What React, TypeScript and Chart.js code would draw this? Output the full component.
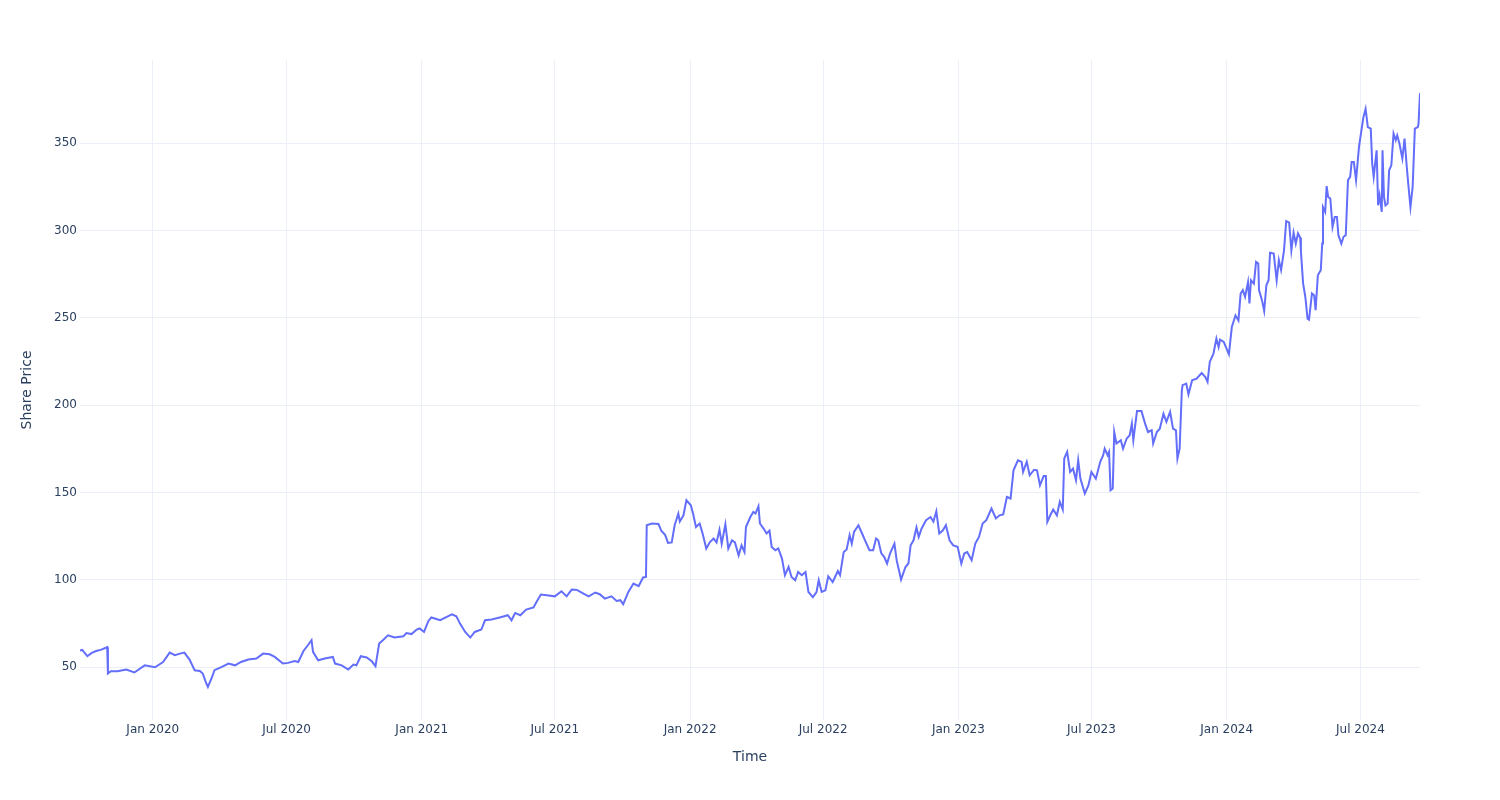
import React, { useEffect, useRef } from "react";
import { Chart, registerables } from "chart.js";

Chart.register(...registerables);

const dates: string[] = [
  "2019-09-24","2019-09-27","2019-10-04","2019-10-10","2019-10-16","2019-10-23","2019-10-30","2019-10-31",
  "2019-11-01","2019-11-05","2019-11-14","2019-11-26","2019-12-07","2019-12-21","2020-01-04","2020-01-15",
  "2020-01-24","2020-01-31","2020-02-07","2020-02-13","2020-02-20","2020-02-27","2020-03-05","2020-03-09",
  "2020-03-13","2020-03-16","2020-03-21","2020-03-25","2020-04-04","2020-04-13","2020-04-22","2020-04-30",
  "2020-05-10","2020-05-21","2020-05-30","2020-06-08","2020-06-15","2020-06-26","2020-07-03","2020-07-12",
  "2020-07-17","2020-07-24","2020-07-30","2020-08-04","2020-08-06","2020-08-13","2020-08-22","2020-09-02",
  "2020-09-05","2020-09-14","2020-09-23","2020-09-30","2020-10-04","2020-10-10","2020-10-18","2020-10-25",
  "2020-10-30","2020-11-04","2020-11-09","2020-11-16","2020-11-25","2020-12-07","2020-12-11","2020-12-18",
  "2020-12-25","2020-12-29","2021-01-04","2021-01-10","2021-01-14","2021-01-26","2021-02-04","2021-02-11",
  "2021-02-17","2021-02-22","2021-03-01","2021-03-08","2021-03-14","2021-03-23","2021-03-28","2021-04-06",
  "2021-04-17","2021-04-28","2021-05-03","2021-05-08","2021-05-15","2021-05-23","2021-06-02","2021-06-06",
  "2021-06-12","2021-06-20","2021-07-01","2021-07-10","2021-07-17","2021-07-24","2021-07-31","2021-08-09",
  "2021-08-16","2021-08-25","2021-08-31","2021-09-07","2021-09-16","2021-09-23","2021-09-28","2021-10-02",
  "2021-10-09","2021-10-16","2021-10-23","2021-10-29","2021-11-02","2021-11-03","2021-11-10","2021-11-19",
  "2021-11-23","2021-11-28","2021-12-02","2021-12-07","2021-12-11","2021-12-16","2021-12-18","2021-12-23",
  "2021-12-27","2022-01-02","2022-01-05","2022-01-09","2022-01-14","2022-01-18","2022-01-23","2022-01-28",
  "2022-02-02","2022-02-06","2022-02-10","2022-02-13","2022-02-18","2022-02-22","2022-02-27","2022-03-03",
  "2022-03-08","2022-03-12","2022-03-16","2022-03-18","2022-03-24","2022-03-28","2022-03-31","2022-04-04",
  "2022-04-06","2022-04-11","2022-04-15","2022-04-19","2022-04-22","2022-04-27","2022-05-01","2022-05-06",
  "2022-05-10","2022-05-15","2022-05-19","2022-05-24","2022-05-28","2022-06-02","2022-06-07","2022-06-11",
  "2022-06-17","2022-06-22","2022-06-25","2022-06-29","2022-07-04","2022-07-08","2022-07-14","2022-07-21",
  "2022-07-24","2022-07-29","2022-08-02","2022-08-06","2022-08-09","2022-08-12","2022-08-18","2022-08-23",
  "2022-08-27","2022-09-02","2022-09-07","2022-09-11","2022-09-14","2022-09-18","2022-09-22","2022-09-26",
  "2022-09-30","2022-10-06","2022-10-09","2022-10-15","2022-10-21","2022-10-25","2022-10-28","2022-11-01",
  "2022-11-05","2022-11-08","2022-11-12","2022-11-18","2022-11-24","2022-11-28","2022-12-02","2022-12-06",
  "2022-12-11","2022-12-15","2022-12-20","2022-12-25","2022-12-31","2023-01-03","2023-01-05","2023-01-09",
  "2023-01-13","2023-01-19","2023-01-24","2023-01-29","2023-02-03","2023-02-08","2023-02-15","2023-02-21",
  "2023-02-26","2023-03-03","2023-03-08","2023-03-13","2023-03-17","2023-03-23","2023-03-28","2023-03-30",
  "2023-04-04","2023-04-08","2023-04-14","2023-04-18","2023-04-22","2023-04-27","2023-04-30","2023-05-02",
  "2023-05-06","2023-05-10","2023-05-15","2023-05-19","2023-05-23","2023-05-25","2023-05-29","2023-06-02",
  "2023-06-06","2023-06-10","2023-06-13","2023-06-16","2023-06-22","2023-06-27","2023-07-01","2023-07-07",
  "2023-07-13","2023-07-17","2023-07-19","2023-07-23","2023-07-25","2023-07-27","2023-07-30","2023-08-01",
  "2023-08-04","2023-08-10","2023-08-13","2023-08-18","2023-08-22","2023-08-25","2023-08-27","2023-09-01",
  "2023-09-07","2023-09-12","2023-09-16","2023-09-21","2023-09-23","2023-09-28","2023-10-02","2023-10-07",
  "2023-10-11","2023-10-16","2023-10-20","2023-10-24","2023-10-26","2023-10-29","2023-11-01","2023-11-02",
  "2023-11-07","2023-11-10","2023-11-15","2023-11-21","2023-11-28","2023-12-03","2023-12-06","2023-12-09",
  "2023-12-14","2023-12-18","2023-12-21","2023-12-23","2023-12-28","2024-01-04","2024-01-08","2024-01-13",
  "2024-01-17","2024-01-20","2024-01-23","2024-01-26","2024-01-30","2024-02-01","2024-02-03","2024-02-07",
  "2024-02-10","2024-02-13","2024-02-14","2024-02-18","2024-02-21","2024-02-24","2024-02-27","2024-02-29",
  "2024-03-05","2024-03-09","2024-03-12","2024-03-15","2024-03-19","2024-03-22","2024-03-26","2024-03-29",
  "2024-04-01","2024-04-04","2024-04-07","2024-04-10","2024-04-11","2024-04-14","2024-04-17","2024-04-20",
  "2024-04-22","2024-04-26","2024-04-29","2024-05-01","2024-05-04","2024-05-08","2024-05-10","2024-05-11",
  "2024-05-14","2024-05-16","2024-05-18","2024-05-21","2024-05-24","2024-05-27","2024-05-30","2024-06-01",
  "2024-06-05","2024-06-08","2024-06-11","2024-06-14","2024-06-17","2024-06-19","2024-06-22","2024-06-25",
  "2024-06-29","2024-07-02","2024-07-05","2024-07-08","2024-07-11","2024-07-15","2024-07-17","2024-07-19",
  "2024-07-23","2024-07-25","2024-07-27","2024-07-30","2024-07-31","2024-08-02","2024-08-04","2024-08-07",
  "2024-08-09","2024-08-12","2024-08-15","2024-08-18","2024-08-20","2024-08-23","2024-08-27","2024-08-30",
  "2024-09-02","2024-09-04","2024-09-07","2024-09-10","2024-09-13","2024-09-17","2024-09-18","2024-09-20"
];

const prices: number[] = [
  59.5,59.9,56.3,58.2,59.3,60.1,61.3,61.5,
  46.4,47.7,47.7,48.7,47.0,51.1,50.0,53.0,
  58.4,56.9,57.8,58.4,54.4,48.3,47.9,46.4,
  41.6,38.7,43.7,48.3,50.2,52.1,51.1,53.0,
  54.4,55.0,57.8,57.4,55.9,52.1,52.5,53.6,
  53.0,59.3,62.6,65.5,58.8,54.0,55.0,55.9,
  52.1,51.1,48.7,51.5,51.1,56.3,55.6,53.4,
  50.6,63.6,65.5,68.3,67.0,67.7,69.6,69.0,
  71.6,72.2,70.2,76.5,78.5,76.9,78.8,80.3,
  79.2,75.0,70.2,67.0,70.2,71.6,76.9,77.3,
  78.5,79.8,76.9,81.1,79.8,83.0,84.2,87.4,
  91.6,91.2,90.6,93.5,90.6,94.5,94.3,92.1,
  90.6,92.8,91.8,89.3,90.6,88.0,88.4,86.1,
  93.1,97.9,96.4,101.4,101.7,131.3,132.3,132.0,
  128.0,125.8,121.2,121.5,131.3,138.0,133.5,137.0,
  145.6,142.7,138.0,130.3,132.3,126.6,118.0,121.7,
  123.7,121.5,128.8,120.8,131.9,118.0,122.7,121.5,
  114.1,119.8,116.0,130.3,136.0,138.9,138.0,142.2,
  132.3,129.4,126.6,128.2,118.9,117.0,118.0,112.2,
  102.7,107.4,101.7,99.8,104.6,102.7,104.6,93.1,
  90.2,93.1,99.8,93.1,94.0,102.1,98.8,105.1,
  102.7,116.0,117.4,125.6,120.8,127.5,131.3,126.6,
  122.7,117.0,117.0,123.7,122.7,115.4,113.2,109.4,
  115.1,120.8,111.3,100.2,107.4,109.4,119.8,122.7,
  130.0,124.6,129.5,134.2,136.0,133.4,139.3,126.6,
  128.4,131.3,122.7,119.8,119.0,113.2,109.4,115.1,
  116.0,111.3,120.8,124.6,132.3,134.2,140.9,135.2,
  137.0,137.5,147.5,146.6,162.8,168.5,167.6,161.8,
  167.6,159.9,163.1,162.8,154.2,159.5,159.5,133.2,
  137.0,140.3,137.0,144.7,140.3,169.5,173.3,161.8,
  163.7,157.1,168.5,158.0,149.4,154.2,161.8,158.0,
  167.6,171.4,175.2,171.4,173.3,151.3,152.3,184.7,
  178.1,180.0,175.2,181.0,182.8,189.5,180.0,196.7,
  196.7,189.5,184.7,185.7,178.1,184.7,186.6,195.2,
  190.5,196.2,186.6,185.7,169.5,175.2,208.6,211.5,
  212.4,206.3,214.3,215.3,218.5,216.2,213.4,224.8,
  229.6,238.2,233.4,237.6,236.3,229.2,244.8,251.5,
  248.6,264.0,266.0,262.1,270.6,258.3,271.6,269.7,
  282.1,281.2,266.0,260.2,254.0,268.7,271.6,287.3,
  286.9,271.6,283.1,277.4,288.7,305.5,304.6,288.7,
  298.8,292.6,298.4,296.0,288.0,269.7,262.0,249.6,
  249.0,264.0,263.0,254.4,274.4,277.3,292.6,313.5,
  310.7,325.5,319.3,318.4,302.1,307.8,307.8,297.4,
  292.6,296.5,297.4,328.9,330.8,339.3,339.3,328.9,
  347.9,356.5,365.0,369.8,359.3,358.4,338.4,330.8,
  346.0,314.5,320.2,310.7,346.0,319.3,314.5,315.5,
  334.6,337.4,355.6,351.8,354.6,349.9,341.3,352.7,
  336.5,326.9,313.5,325.0,358.4,359.3,361.2,378.8
];

const xTickDates: string[] = [
  "2020-01-01","2020-07-01","2021-01-01","2021-07-01","2022-01-01",
  "2022-07-01","2023-01-01","2023-07-01","2024-01-01","2024-07-01"
];
const xTickLabels: string[] = [
  "Jan 2020","Jul 2020","Jan 2021","Jul 2021","Jan 2022",
  "Jul 2022","Jan 2023","Jul 2023","Jan 2024","Jul 2024"
];
const yTicks: number[] = [50, 100, 150, 200, 250, 300, 350];

const FONT = "'DejaVu Sans', Verdana, Arial, sans-serif";
const TXT = "#2a3f5f";
const GRID = "#ebf0f8";

export default function App() {
  const ref = useRef<HTMLCanvasElement>(null);

  useEffect(() => {
    if (!ref.current) return;
    const points = dates.map((d, i) => ({ x: Date.parse(d), y: prices[i] }));
    const lo = Math.min(...prices);
    const hi = Math.max(...prices);
    const pad = (hi - lo) * 0.0556;
    const tickVals = xTickDates.map((d) => Date.parse(d));

    const chart = new Chart(ref.current, {
      type: "line",
      data: {
        datasets: [
          {
            label: "Share Price",
            data: points,
            borderColor: "#636efa",
            backgroundColor: "#636efa",
            borderWidth: 2,
            pointRadius: 0,
            tension: 0,
            fill: false,
          },
        ],
      },
      options: {
        animation: false,
        responsive: false,
        layout: { padding: { top: 60, right: 80, left: 0, bottom: 0 } },
        plugins: { legend: { display: false }, tooltip: { enabled: false } },
        scales: {
          x: {
            type: "linear",
            min: points[0].x,
            max: points[points.length - 1].x,
            afterBuildTicks: (s: any) => {
              s.ticks = tickVals.map((v) => ({ value: v }));
            },
            afterFit: (s: any) => {
              s.height = 80;
            },
            ticks: {
              autoSkip: false,
              maxRotation: 0,
              padding: 3,
              color: TXT,
              font: { family: FONT, size: 12 },
              callback: (v: any) => {
                const i = tickVals.indexOf(Number(v));
                return i >= 0 ? xTickLabels[i] : "";
              },
            },
            grid: { color: GRID, lineWidth: 1, drawTicks: false },
            border: { display: false },
            title: {
              display: true,
              text: "Time",
              color: TXT,
              font: { family: FONT, size: 14 },
              padding: { top: 0, bottom: 34 },
            },
          },
          y: {
            type: "linear",
            min: lo - pad,
            max: hi + pad,
            afterBuildTicks: (s: any) => {
              s.ticks = yTicks.map((v) => ({ value: v }));
            },
            afterFit: (s: any) => {
              s.width = 80;
            },
            ticks: {
              padding: 3,
              color: TXT,
              font: { family: FONT, size: 12 },
              callback: (v: any) => String(v),
            },
            grid: { color: GRID, lineWidth: 1, drawTicks: false },
            border: { display: false },
            title: {
              display: true,
              text: "Share Price",
              color: TXT,
              font: { family: FONT, size: 14 },
              padding: { top: 19, bottom: 0 },
            },
          },
        },
      },
    });
    return () => chart.destroy();
  }, []);

  return (
    <div style={{ position: "absolute", left: 0, top: 0, width: 1500, height: 800, background: "#ffffff" }}>
      <canvas ref={ref} width={1500} height={800} style={{ display: "block" }} />
    </div>
  );
}
